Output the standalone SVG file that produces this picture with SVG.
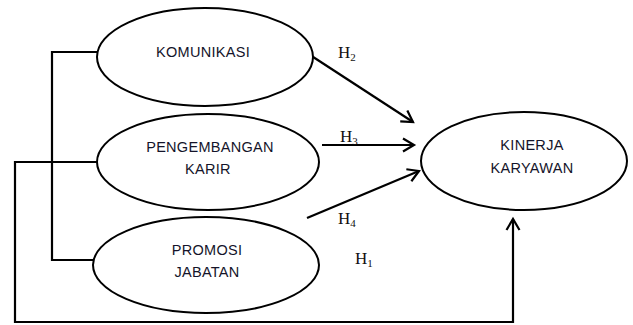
<svg xmlns="http://www.w3.org/2000/svg" width="633" height="325" viewBox="0 0 633 325">
<defs>
<marker id="arr" markerWidth="16" markerHeight="16" refX="13" refY="8" orient="auto" markerUnits="userSpaceOnUse">
<polyline points="2,1.5 13,8 2,14.5" fill="none" stroke="#000" stroke-width="2.2"/>
</marker>
<style>
.n{fill:#fff;stroke:#000;stroke-width:2}
.t{font-family:"Liberation Sans",Arial,sans-serif;font-size:14.5px;fill:#14142a;text-anchor:middle;letter-spacing:0.3px}
.l{fill:none;stroke:#000;stroke-width:2.2}
.h{font-family:"Liberation Serif","Times New Roman",serif;font-size:17px;fill:#111}
.s{font-size:11px}
</style>
</defs>
<rect width="633" height="325" fill="#fff"/>
<g id="connectors">
<polyline class="l" points="97,52 52,52 52,260 94,260"/>
<line class="l" x1="52" y1="162" x2="97" y2="162"/>
<polyline class="l" points="97,162 15,162 15,322 513,322 513,240"/>
<line class="l" x1="513" y1="240" x2="513" y2="219" marker-end="url(#arr)"/>
<line class="l" x1="307" y1="53" x2="413" y2="122" marker-end="url(#arr)"/>
<line class="l" x1="322" y1="145" x2="414" y2="145" marker-end="url(#arr)"/>
<line class="l" x1="307" y1="218" x2="419" y2="171" marker-end="url(#arr)"/>
<text class="h" x="338" y="58">H<tspan class="s" dy="3">2</tspan></text>
<text class="h" x="340" y="142">H<tspan class="s" dy="3">3</tspan></text>
<text class="h" x="338" y="224">H<tspan class="s" dy="3">4</tspan></text>
<text class="h" x="355" y="264">H<tspan class="s" dy="3">1</tspan></text>
</g>
<g id="komunikasi">
<ellipse class="n" cx="205" cy="57" rx="108" ry="49"/>
<text class="t" x="203" y="57">KOMUNIKASI</text>
</g>
<g id="pengembangan-karir">
<ellipse class="n" cx="208" cy="162" rx="111" ry="48"/>
<text class="t" x="210" y="152">PENGEMBANGAN</text>
<text class="t" x="208" y="174">KARIR</text>
</g>
<g id="promosi-jabatan">
<ellipse class="n" cx="206" cy="265" rx="113" ry="48"/>
<text class="t" x="207" y="255">PROMOSI</text>
<text class="t" x="207" y="277">JABATAN</text>
</g>
<g id="kinerja-karyawan">
<ellipse class="n" cx="524" cy="161" rx="103" ry="49"/>
<text class="t" x="532" y="150">KINERJA</text>
<text class="t" x="532" y="173">KARYAWAN</text>
</g>
</svg>
